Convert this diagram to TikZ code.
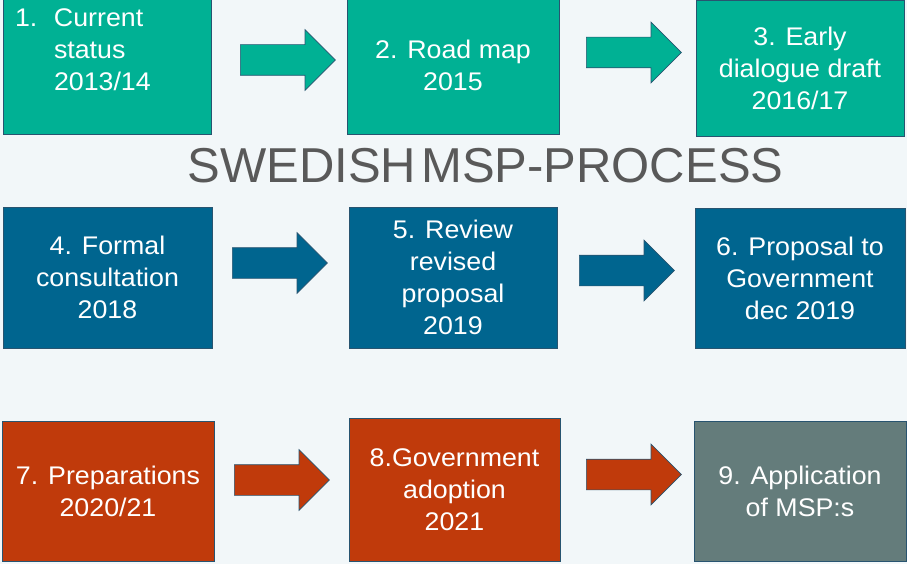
\documentclass[tikz,border=0pt]{standalone}
\usepackage{fontspec}
\setmainfont{Liberation Sans}
\newfontfamily\stagefont{Liberation Sans}[FakeStretch=1.05]
\usetikzlibrary{shapes.arrows}

\definecolor{mspback}{RGB}{242,247,249}
\definecolor{mspteal}{RGB}{0,177,148}
\definecolor{mspblue}{RGB}{0,101,143}
\definecolor{msprust}{RGB}{192,58,11}
\definecolor{mspgrey}{RGB}{100,124,123}
\definecolor{stageline}{RGB}{40,84,112}
\definecolor{msptitle}{RGB}{89,89,89}

\tikzset{
  stage/.style={draw=stageline, line width=0.7pt, text=white, align=center,
    font=\stagefont\fontsize{25.5}{32}\selectfont,
    minimum width=208pt, minimum height=141pt, inner sep=0pt},
  blockarrow/.style={single arrow, draw=stageline, line width=0.7pt,
    minimum height=95pt, minimum width=60pt, inner xsep=0pt, inner ysep=15pt,
    single arrow head extend=15pt, anchor=tail}
}

\begin{document}
\begin{tikzpicture}[x=1pt,y=-1pt]
\clip (0,0) rectangle (907,564);
\fill[mspback] (0,0) rectangle (907,564);

		% first row
		\node[stage, fill=mspteal, align=left, text width=184pt, inner xsep=12pt, minimum height=169pt] (s1) at (107,49.5)
		  {\makebox[39pt][l]{1.}Current\\\hspace*{39pt}status\\\hspace*{39pt}2013/14};
		\node[stage, fill=mspteal, minimum width=212pt, minimum height=137pt] (s2) at (453,65.5) {2. Road map\\2015};
		\node[stage, fill=mspteal, minimum height=136pt] (s3) at (800,68) {3. Early\\dialogue draft\\2016/17};
		\node[blockarrow, fill=mspteal] (a12) at (240,60) {};
		\node[blockarrow, fill=mspteal] (a23) at (586,52.5) {};

		% title
		\node[font=\fontsize{49}{58}\selectfont, text=msptitle, anchor=base, inner sep=0pt] (title) at (485.5,183)
		  {{\spaceskip=5pt SWEDISH MSP-PROCESS}};

		% second row
		\node[stage, fill=mspblue, minimum width=209pt] (s4) at (107.5,277.5) {4. Formal\\consultation\\2018};
		\node[stage, fill=mspblue] (s5) at (453,277.5) {5. Review\\revised\\proposal\\2019};
		\node[stage, fill=mspblue, minimum width=210pt, minimum height=140pt] (s6) at (800,278) {6. Proposal to\\Government\\dec 2019};
		\node[blockarrow, fill=mspblue] (a45) at (232,263) {};
		\node[blockarrow, fill=mspblue] (a56) at (579,270.5) {};

		% third row
		\node[stage, fill=msprust, minimum width=212pt, minimum height=140pt] (s7) at (108,491) {7. Preparations\\2020/21};
		\node[stage, fill=msprust, minimum width=211pt, minimum height=143pt] (s8) at (454.5,489.5) {8.Government\\adoption\\2021};
		\node[stage, fill=mspgrey, minimum width=212pt, minimum height=140pt] (s9) at (800,491) {9. Application\\of MSP:s};
		\node[blockarrow, fill=msprust] (a78) at (234,480) {};
		\node[blockarrow, fill=msprust] (a89) at (586,474.5) {};
\end{tikzpicture}
\end{document}
